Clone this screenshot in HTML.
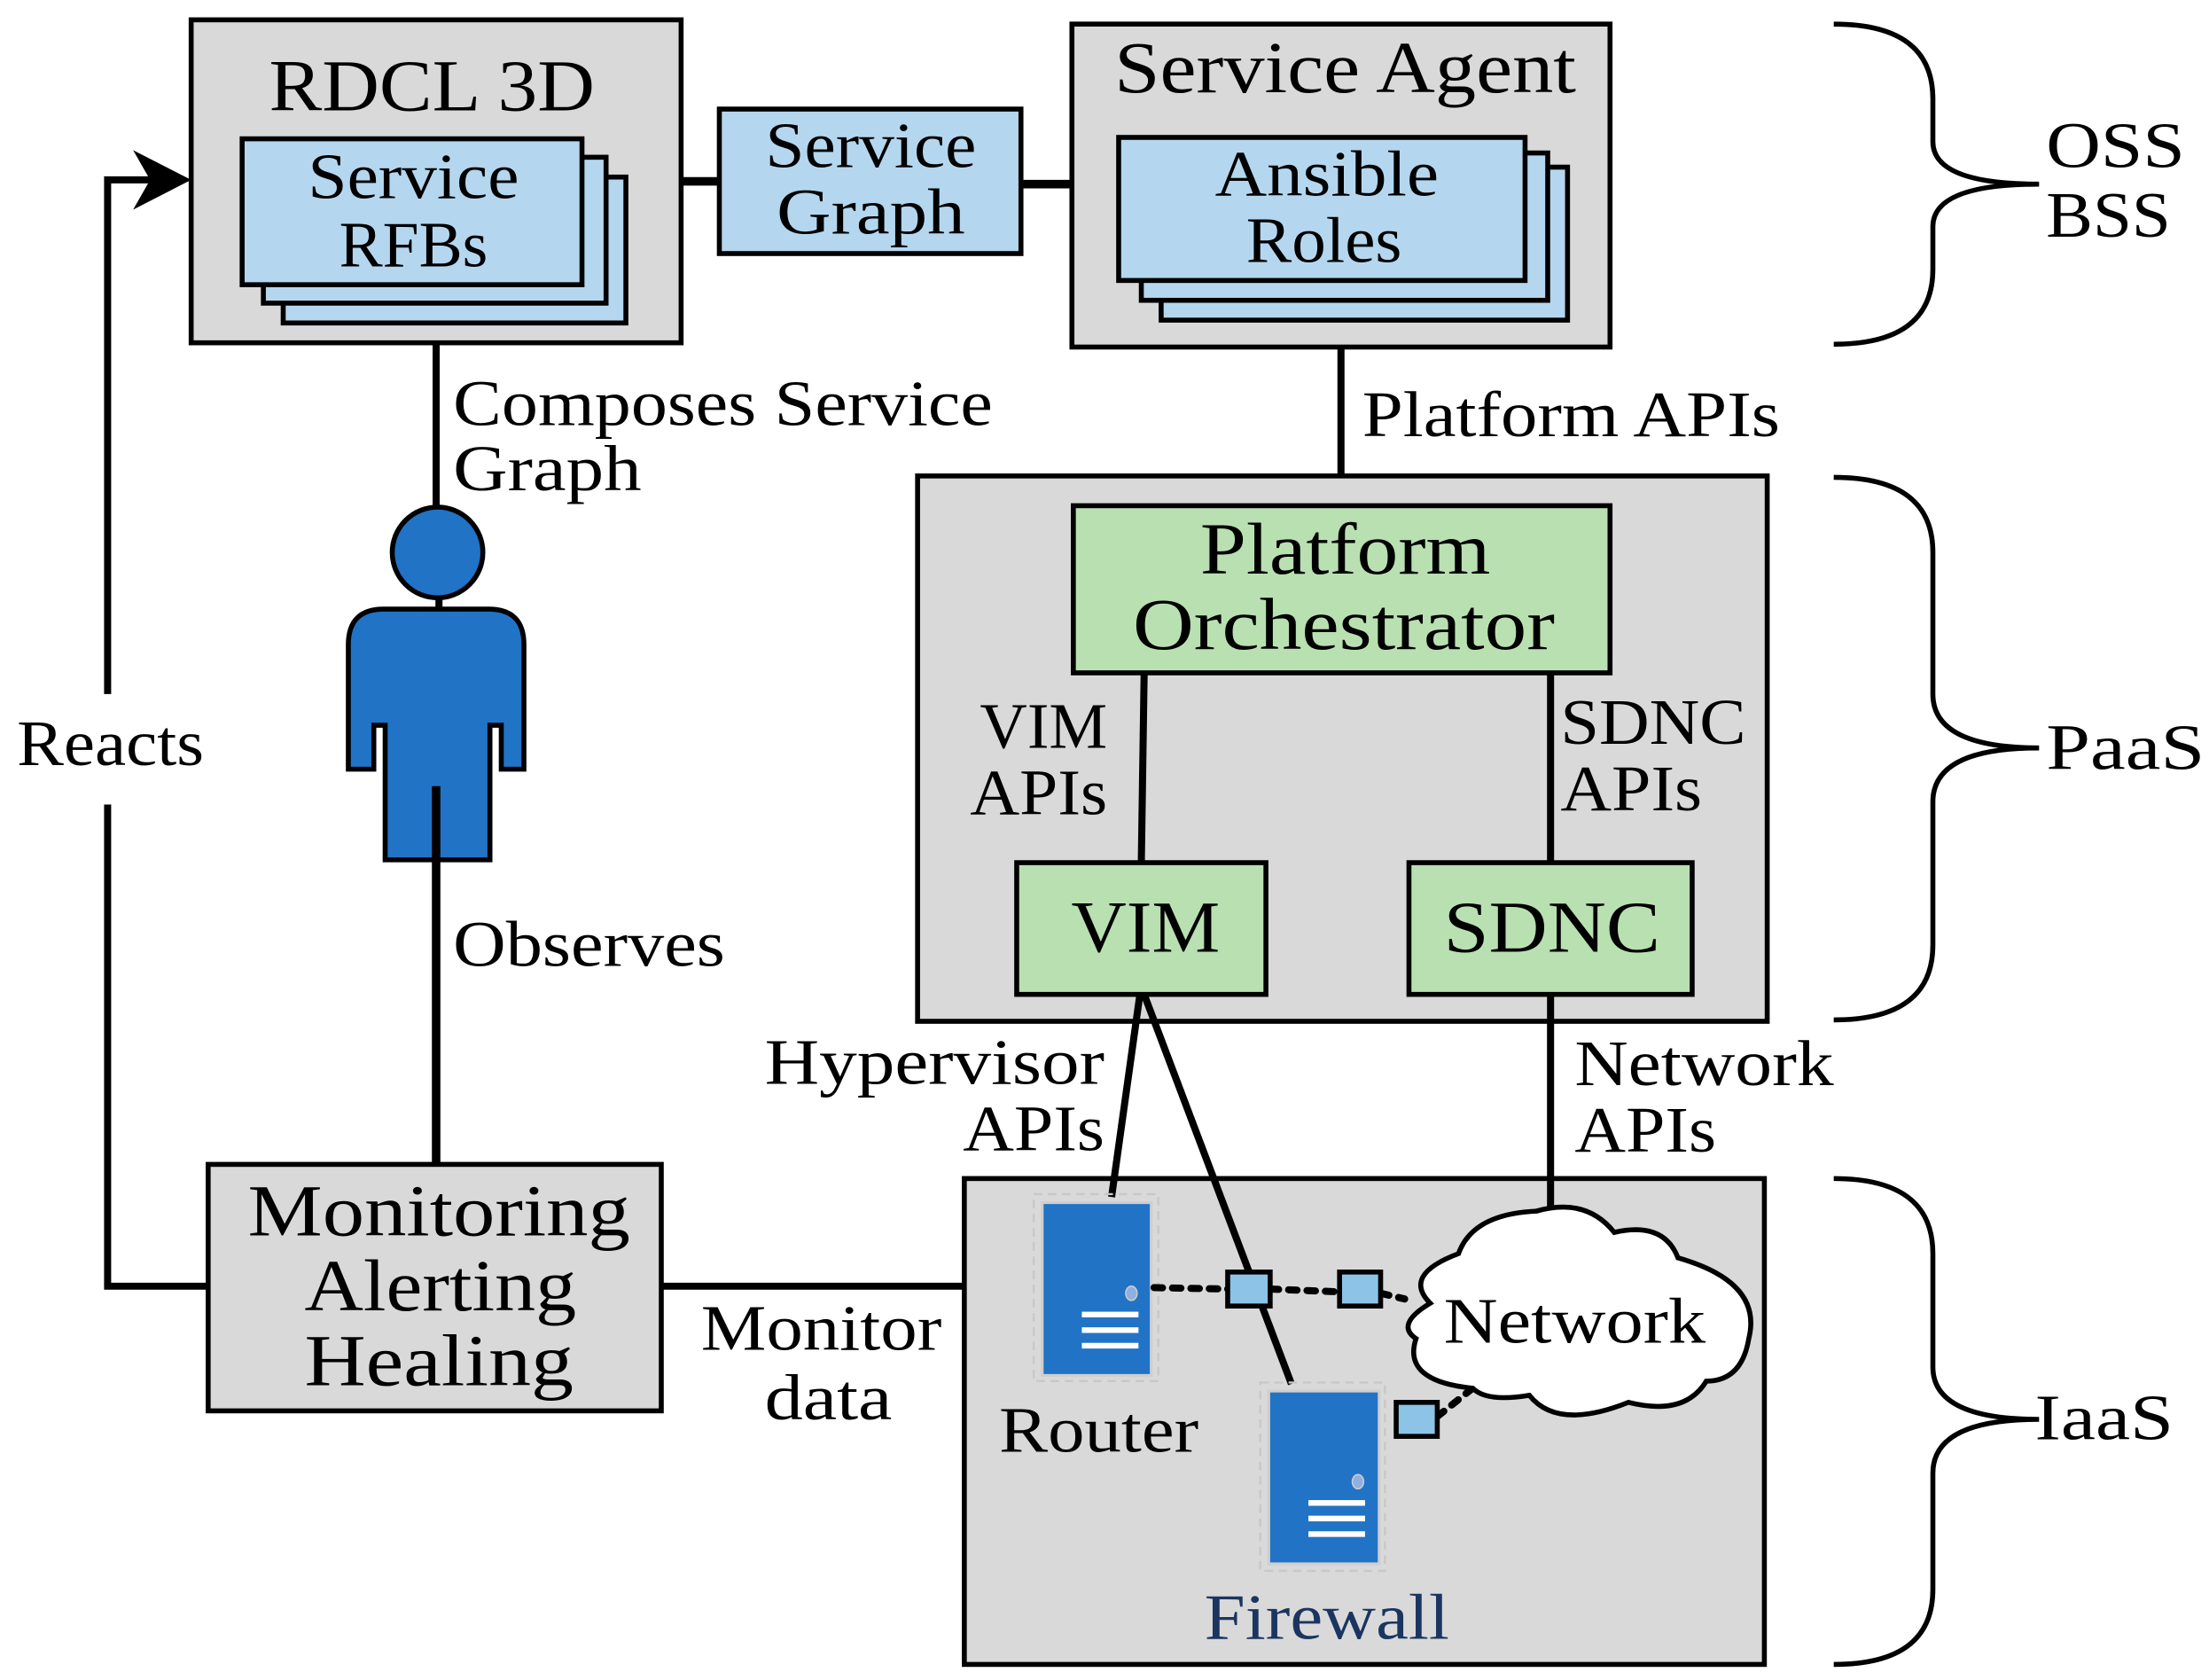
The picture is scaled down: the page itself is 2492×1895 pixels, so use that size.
<!DOCTYPE html>
<html><head><meta charset="utf-8"><style>
html,body{margin:0;padding:0;background:#fff;}
svg{display:block;}
text{font-family:"Liberation Serif",serif;fill:#000;}
</style></head><body>
<svg width="2492" height="1895" viewBox="0 0 1560 1186" preserveAspectRatio="none" xmlns="http://www.w3.org/2000/svg">
<g stroke="#000" stroke-width="3.5">
<rect x="135" y="14" width="346" height="228" fill="#d9d9d9"/>
<rect x="200" y="125" width="242" height="103" fill="#b4d7ef"/>
<rect x="186" y="111" width="242" height="103" fill="#b4d7ef"/>
<rect x="171" y="98" width="240" height="103" fill="#b4d7ef"/>
<line x1="481" y1="128" x2="508" y2="128" stroke-width="6"/>
<rect x="508" y="77" width="213" height="102" fill="#b4d7ef"/>
<line x1="721" y1="130" x2="757" y2="130" stroke-width="6"/>
<rect x="757" y="17" width="380" height="228" fill="#d9d9d9"/>
<rect x="820" y="118" width="287" height="108" fill="#b4d7ef"/>
<rect x="806" y="108" width="287" height="104" fill="#b4d7ef"/>
<rect x="790" y="97" width="287" height="101" fill="#b4d7ef"/>
<line x1="947" y1="245" x2="947" y2="357" stroke-width="5"/>
<rect x="648" y="336" width="600" height="385" fill="#d9d9d9"/>
<rect x="758" y="357" width="379" height="118" fill="#b9e0b1"/>
<line x1="808" y1="475" x2="806" y2="609" stroke-width="5"/>
<line x1="1095" y1="475" x2="1095" y2="609" stroke-width="5"/>
<rect x="718" y="609" width="176" height="93" fill="#b9e0b1"/>
<rect x="995" y="609" width="200" height="93" fill="#b9e0b1"/>
<rect x="681" y="832" width="565" height="343" fill="#d9d9d9"/>
<line x1="1095" y1="702" x2="1095" y2="868" stroke-width="5"/>
<line x1="805" y1="702" x2="785" y2="845" stroke-width="5"/>
<line x1="808" y1="702" x2="912" y2="977" stroke-width="5"/>
<rect x="147" y="822" width="320" height="174" fill="#d9d9d9"/>
<line x1="467" y1="908" x2="681" y2="908" stroke-width="5"/>
<polyline points="147,908 76,908 76,568" fill="none" stroke-width="5"/>
<polyline points="76,490 76,127 110,127" fill="none" stroke-width="5"/>
<line x1="308" y1="242" x2="308" y2="362" stroke-width="5"/>
<line x1="310" y1="420" x2="310" y2="432" stroke-width="5"/>
<ellipse cx="309" cy="390" rx="32" ry="32" fill="#2173c6"/>
<path d="M246,455 Q246,430 271,430 L345,430 Q370,430 370,455 L370,543 L354,543 L354,512 L346,512 L346,607 L272,607 L272,512 L264,512 L264,543 L246,543 Z" fill="#2173c6"/>
<line x1="308" y1="555" x2="308" y2="822" stroke-width="6"/>
<path d="M1295,17 Q1365,17 1365,70 L1365,100 Q1365,130 1440,130 Q1365,130 1365,160 L1365,190 Q1365,243 1295,243" fill="none"/>
<path d="M1295,337 Q1365,337 1365,390 L1365,490 Q1365,528 1440,528 Q1365,528 1365,566 L1365,667 Q1365,720 1295,720" fill="none"/>
<path d="M1295,832 Q1365,832 1365,885 L1365,965 Q1365,1002 1440,1002 Q1365,1002 1365,1040 L1365,1122 Q1365,1175 1295,1175" fill="none"/>
</g>
<polygon points="135,127 94,106 106,127 94,148" fill="#000"/>
<rect x="730" y="843" width="88" height="132" fill="none" stroke="#c8c8c8" stroke-width="1.5" stroke-dasharray="6,4"/>
<rect x="736" y="849" width="77" height="122" fill="#2173c6" stroke="#cfcfcf" stroke-width="2"/>
<ellipse cx="799" cy="913" rx="4" ry="5" fill="#8fb0e0" stroke="#ccc"/>
<g fill="#fff"><rect x="764" y="926" width="40" height="4"/><rect x="764" y="937" width="40" height="4"/><rect x="764" y="948" width="40" height="4"/></g>
<rect x="890" y="976" width="88" height="133" fill="none" stroke="#c8c8c8" stroke-width="1.5" stroke-dasharray="6,4"/>
<rect x="896" y="982" width="78" height="122" fill="#2173c6" stroke="#cfcfcf" stroke-width="2"/>
<ellipse cx="959" cy="1046" rx="4" ry="5" fill="#8fb0e0" stroke="#ccc"/>
<g fill="#fff"><rect x="924" y="1059" width="40" height="4"/><rect x="924" y="1070" width="40" height="4"/><rect x="924" y="1081" width="40" height="4"/></g>
<g stroke="#000" stroke-width="5" stroke-dasharray="6,7" stroke-linecap="round" fill="none">
<line x1="815" y1="909" x2="867" y2="910"/>
<line x1="897" y1="910" x2="946" y2="912"/>
<line x1="975" y1="913" x2="992" y2="917"/>
<line x1="1015" y1="1000" x2="1040" y2="980"/>
</g>
<path d="M1010,920 Q990,900 1030,885 Q1040,857 1085,855 Q1120,845 1140,870 Q1175,862 1185,888 Q1245,905 1235,945 Q1230,975 1205,975 Q1190,1000 1150,990 Q1100,1010 1080,985 Q1050,990 1040,980 Q990,975 1000,945 Q985,935 1010,920 Z" fill="#fff" stroke="#000" stroke-width="3.5"/>
<g fill="#8dc3e7" stroke="#000" stroke-width="3.5">
<rect x="867" y="898" width="30" height="24"/>
<rect x="946" y="898" width="29" height="24"/>
<rect x="986" y="990" width="29" height="24"/>
</g>
<g font-size="52" text-anchor="middle" lengthAdjust="spacingAndGlyphs">
<text x="305" y="78" textLength="230" lengthAdjust="spacingAndGlyphs">RDCL 3D</text>
<text x="950" y="65" textLength="326" lengthAdjust="spacingAndGlyphs">Service Agent</text>
<text x="950" y="405" textLength="205" lengthAdjust="spacingAndGlyphs">Platform</text>
<text x="949" y="458" textLength="298" lengthAdjust="spacingAndGlyphs">Orchestrator</text>
<text x="809" y="672" textLength="105" lengthAdjust="spacingAndGlyphs">VIM</text>
<text x="1096" y="672" textLength="153" lengthAdjust="spacingAndGlyphs">SDNC</text>
<text x="310" y="872" textLength="270" lengthAdjust="spacingAndGlyphs">Monitoring</text>
<text x="311" y="925" textLength="192" lengthAdjust="spacingAndGlyphs">Alerting</text>
<text x="310" y="978" textLength="190" lengthAdjust="spacingAndGlyphs">Healing</text>
</g>
<g font-size="46" text-anchor="middle">
<text x="292" y="140" textLength="149" lengthAdjust="spacingAndGlyphs">Service</text>
<text x="292" y="188" textLength="105" lengthAdjust="spacingAndGlyphs">RFBs</text>
<text x="615" y="118" textLength="149" lengthAdjust="spacingAndGlyphs">Service</text>
<text x="615" y="165" textLength="133" lengthAdjust="spacingAndGlyphs">Graph</text>
<text x="937" y="138" textLength="158" lengthAdjust="spacingAndGlyphs">Ansible</text>
<text x="935" y="185" textLength="110" lengthAdjust="spacingAndGlyphs">Roles</text>
<text x="1112" y="948" textLength="185" lengthAdjust="spacingAndGlyphs">Network</text>
<text x="776" y="1025" textLength="141" lengthAdjust="spacingAndGlyphs">Router</text>
<text x="937" y="1157" textLength="173" lengthAdjust="spacingAndGlyphs" style="fill:#1a3560">Firewall</text>
<text x="580" y="953" textLength="170" lengthAdjust="spacingAndGlyphs">Monitor</text>
<text x="585" y="1002" textLength="90" lengthAdjust="spacingAndGlyphs">data</text>
</g>
<g font-size="46">
<text x="320" y="300" textLength="381" lengthAdjust="spacingAndGlyphs">Composes Service</text>
<text x="320" y="346" textLength="133" lengthAdjust="spacingAndGlyphs">Graph</text>
<text x="320" y="682" textLength="192" lengthAdjust="spacingAndGlyphs">Observes</text>
<text x="12" y="540" textLength="132" lengthAdjust="spacingAndGlyphs">Reacts</text>
<text x="962" y="308" textLength="295" lengthAdjust="spacingAndGlyphs">Platform APIs</text>
<text x="1102" y="525" textLength="131" lengthAdjust="spacingAndGlyphs">SDNC</text>
<text x="1102" y="572" textLength="100" lengthAdjust="spacingAndGlyphs">APIs</text>
<text x="1112" y="766" textLength="183" lengthAdjust="spacingAndGlyphs">Network</text>
<text x="1112" y="813" textLength="100" lengthAdjust="spacingAndGlyphs">APIs</text>
<text x="1445" y="118" textLength="98" lengthAdjust="spacingAndGlyphs">OSS</text>
<text x="1445" y="167" textLength="88" lengthAdjust="spacingAndGlyphs">BSS</text>
<text x="1445" y="543" textLength="112" lengthAdjust="spacingAndGlyphs">PaaS</text>
<text x="1437" y="1016" textLength="98" lengthAdjust="spacingAndGlyphs">IaaS</text>
</g>
<g font-size="46" text-anchor="end">
<text x="782" y="528" textLength="90" lengthAdjust="spacingAndGlyphs">VIM</text>
<text x="782" y="575" textLength="97" lengthAdjust="spacingAndGlyphs">APIs</text>
<text x="780" y="765" textLength="240" lengthAdjust="spacingAndGlyphs">Hypervisor</text>
<text x="780" y="812" textLength="100" lengthAdjust="spacingAndGlyphs">APIs</text>
</g>
</svg>
</body></html>
